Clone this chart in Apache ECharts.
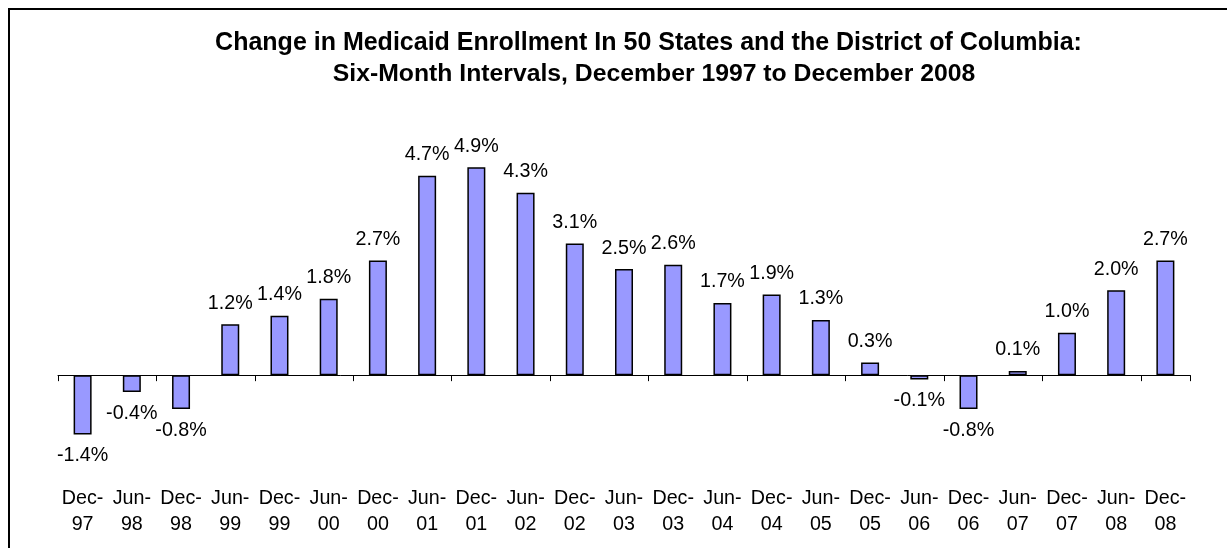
<!DOCTYPE html>
<html>
<head>
<meta charset="utf-8">
<script src="https://cdn.jsdelivr.net/npm/echarts@6/dist/echarts.min.js"></script>
<style>
  html, body { margin: 0; padding: 0; background: #fff; }
  #chart { width: 1227px; height: 548px; }
</style>
</head>
<body>
<div id="chart"></div>
<script>
// periods, six months apart
var periods = ['Dec-97', 'Jun-98', 'Dec-98', 'Jun-99', 'Dec-99', 'Jun-00', 'Dec-00', 'Jun-01',
  'Dec-01', 'Jun-02', 'Dec-02', 'Jun-03', 'Dec-03', 'Jun-04', 'Dec-04', 'Jun-05', 'Dec-05',
  'Jun-06', 'Dec-06', 'Jun-07', 'Dec-07', 'Jun-08', 'Dec-08'];
// percent change in enrollment
var change = [-1.4, -0.4, -0.8, 1.2, 1.4, 1.8, 2.7, 4.7, 4.9, 4.3, 3.1, 2.5, 2.6, 1.7, 1.9, 1.3,
  0.3, -0.1, -0.8, 0.1, 1.0, 2.0, 2.7];
var titleLines = ['Change in Medicaid Enrollment In 50 States and the District of Columbia:',
  'Six-Month Intervals, December 1997 to December 2008'];

var font = 'Liberation Sans';
var chart = echarts.init(document.getElementById('chart'));

var barData = change.map(function (v) {
  return {
    value: v,
    label: { position: v < 0 ? 'bottom' : 'top', distance: v < 0 ? 11 : 11 }
  };
});

function titleLine(text, x, y, size) {
  return {
    text: text,
    left: x,
    top: y,
    textAlign: 'center',
    textStyle: { fontFamily: font, fontSize: size, fontWeight: 'bold', color: '#000', lineHeight: 31 }
  };
}

chart.setOption({
  animation: false,
  title: [
    titleLine(titleLines[0], 643.5, 23, 25),
    titleLine(titleLines[1], 649, 54, 24.75)
  ],
  graphic: [{
    type: 'rect',
    shape: { x: 9, y: 9, width: 1400, height: 700 },
    style: { fill: 'none', stroke: '#000', lineWidth: 2 },
    silent: true
  }],
  grid: { left: 58, right: 37, top: 163, bottom: 88, outerBoundsMode: 'none', containLabel: false },
  xAxis: [{
    // zero line with ticks
    type: 'category',
    data: periods,
    axisLine: { onZero: true, lineStyle: { color: '#000', width: 1 } },
    axisTick: { show: true, length: 6, lineStyle: { color: '#000' } },
    axisLabel: { show: false }
  }, {
    // labels along the bottom
    type: 'category',
    data: periods,
    position: 'bottom',
    axisLine: { show: false, onZero: false },
    axisTick: { show: false },
    axisLabel: {
      interval: 0,
      margin: 26,
      fontFamily: font,
      fontSize: 19.7,
      lineHeight: 26,
      color: '#000',
      formatter: function (s) { return s.replace('-', '-\n'); }
    }
  }],
  yAxis: {
    type: 'value',
    min: -2,
    max: 5,
    show: false,
    splitLine: { show: false }
  },
  series: [{
    type: 'bar',
    data: barData,
    barWidth: 18,
    itemStyle: { color: '#9999FF', borderColor: '#000', borderWidth: 1.5 },
    label: {
      show: true,
      fontFamily: font,
      fontSize: 19.7,
      color: '#000',
      formatter: function (p) { return p.value.toFixed(1) + '%'; }
    }
  }]
});
</script>
</body>
</html>
